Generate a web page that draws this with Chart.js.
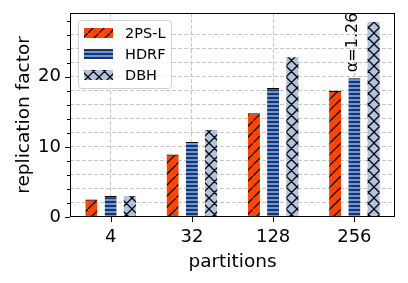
<!DOCTYPE html>
<html>
<head>
<meta charset="utf-8">
<script src="https://cdn.jsdelivr.net/npm/chart.js@4"></script>
<style>
  html, body { margin: 0; padding: 0; background: #fff; }
  #wrap { width: 408px; height: 283px; }
</style>
</head>
<body>
<div id="wrap"><canvas id="grafico" width="408" height="283"></canvas></div>
<script>
// dados
const categorias = ['4', '32', '128', '256'];
const nomesSeries = ['2PS-L', 'HDRF', 'DBH'];
const valores2psl = [2.5, 8.9, 14.8, 18.0];
const valoresHdrf = [3.0, 10.7, 18.4, 19.8];
const valoresDbh = [3.0, 12.4, 22.8, 27.8];
const ticksMaioresY = [0, 10, 20];
const passoMenorY = 2;
const yMax = 29.1;
const anotacao = 'α=1.26';

const fonte = 'DejaVu Sans';

// padrões de hachura estilo matplotlib
function hachura(fundo, tipo) {
    const c = document.createElement('canvas');
    const s = tipo === 'h' ? 4 : 11;
    c.width = s; c.height = s;
    const g = c.getContext('2d');
    g.fillStyle = fundo;
    g.fillRect(0, 0, s, s);
    g.strokeStyle = '#000';
    g.lineWidth = 1.3;
    g.beginPath();
    if (tipo === 'h') {
        g.moveTo(0, 2); g.lineTo(s, 2);
    }
    if (tipo === '/' || tipo === 'x') {
        g.moveTo(-1, s + 1); g.lineTo(s + 1, -1);
        g.moveTo(-2, 1); g.lineTo(1, -2);
        g.moveTo(s - 1, s + 2); g.lineTo(s + 2, s - 1);
    }
    if (tipo === 'x') {
        g.moveTo(-1, -1); g.lineTo(s + 1, s + 1);
        g.moveTo(s - 1, -2); g.lineTo(s + 2, 1);
        g.moveTo(-2, s - 1); g.lineTo(1, s + 2);
    }
    g.stroke();
    return g.createPattern(c, 'repeat');
}

const ctx = document.getElementById('grafico').getContext('2d');
const padroes = [hachura('#ff4500', '/'), hachura('#6495ed', 'h'), hachura('#b0c4de', 'x')];

// moldura, marcas dos eixos, legenda e anotação
const extras = {
    id: 'extras',
    afterDatasetsDraw(chart) {
        const c = chart.ctx;
        const a = chart.chartArea;
        const sx = chart.scales.x, sy = chart.scales.y;
        c.save();
        c.strokeStyle = '#000';
        c.lineWidth = 1;
        c.strokeRect(a.left + 0.5, a.top + 0.5, a.right - a.left - 1, a.bottom - a.top - 1);
        c.beginPath();
        for (let v = 0; v <= yMax; v += passoMenorY) {
            const y = Math.round(sy.getPixelForValue(v)) + 0.5;
            const len = ticksMaioresY.includes(v) ? 5 : 3;
            c.moveTo(a.left - len, y); c.lineTo(a.left, y);
        }
        categorias.forEach(function(_, i) {
            const x = Math.round(sx.getPixelForValue(i)) + 0.5;
            c.moveTo(x, a.bottom); c.lineTo(x, a.bottom + 5);
        });
        c.stroke();

        // anotação acima da barra HDRF de 256
        const barra = chart.getDatasetMeta(1).data[3];
        c.translate(barra.x - 2, barra.y - 6);
        c.rotate(-Math.PI / 2);
        c.fillStyle = '#000';
        c.font = '16px "' + fonte + '"';
        c.textAlign = 'left';
        c.textBaseline = 'middle';
        c.fillText(anotacao, 0, 0);
        c.restore();

        // legenda
        c.save();
        const lx = 78, ly = 20, lw = 93, lh = 68;
        c.fillStyle = 'rgba(255,255,255,0.8)';
        c.strokeStyle = '#d0d0d0';
        c.lineWidth = 1;
        c.beginPath();
        c.roundRect(lx + 0.5, ly + 0.5, lw, lh, 3);
        c.fill(); c.stroke();
        c.font = '14.5px "' + fonte + '"';
        c.textBaseline = 'middle';
        c.textAlign = 'left';
        nomesSeries.forEach(function(nome, i) {
            const cy = 33 + i * 21;
            c.fillStyle = padroes[i];
            c.fillRect(84, cy - 5, 29, 10);
            c.fillStyle = '#000';
            c.fillText(nome, 125, cy + 1);
        });
        c.restore();
    }
};

const conjuntos = [valores2psl, valoresHdrf, valoresDbh].map(function(dados, i) {
    return {
        label: nomesSeries[i],
        data: dados,
        backgroundColor: padroes[i],
        borderColor: '#000',
        borderWidth: i < 2 ? { top: 1.2, left: 0, right: 0, bottom: 0 } : 0,
        borderSkipped: 'start',
        categoryPercentage: 0.71,
        barPercentage: 0.63
    };
});

new Chart(ctx, {
    type: 'bar',
    data: { labels: categorias, datasets: conjuntos },
    options: {
        responsive: false,
        animation: false,
        devicePixelRatio: 1,
        layout: { padding: { left: 0, right: 13, top: 13, bottom: 0 } },
        plugins: { legend: { display: false }, tooltip: { enabled: false } },
        scales: {
            x: {
                grid: { offset: false, drawTicks: false, color: '#c8c8c8', lineWidth: 1 },
                border: { display: false, dash: [4, 2] },
                ticks: { color: '#000', font: { family: fonte, size: 18 }, padding: 10, maxRotation: 0 },
                title: { display: true, text: 'partitions', color: '#000', font: { family: fonte, size: 18.5 }, padding: { top: 0, bottom: 10 } },
                afterFit: function(s) { s.height = 66; s.paddingLeft = 0; s.paddingRight = 0; }
            },
            y: {
                min: 0,
                max: yMax,
                grid: {
                    drawTicks: false,
                    lineWidth: 1,
                    color: function(c) { return c.tick && c.tick.value % passoMenorY === 0 && c.tick.value > 0 ? '#c8c8c8' : 'transparent'; }
                },
                border: { display: false, dash: [4, 2] },
                ticks: {
                    stepSize: passoMenorY,
                    autoSkip: false,
                    color: '#000',
                    padding: 9,
                    font: { family: fonte, size: 18 },
                    callback: function(v) { return ticksMaioresY.includes(v) ? String(v) : ''; }
                },
                title: { display: true, text: 'replication factor', color: '#000', font: { family: fonte, size: 18.5 }, padding: { top: 13, bottom: 0 } },
                afterFit: function(s) { s.width = 70; s.paddingTop = 0; s.paddingBottom = 0; }
            }
        }
    },
    plugins: [extras]
});
</script>
</body>
</html>
